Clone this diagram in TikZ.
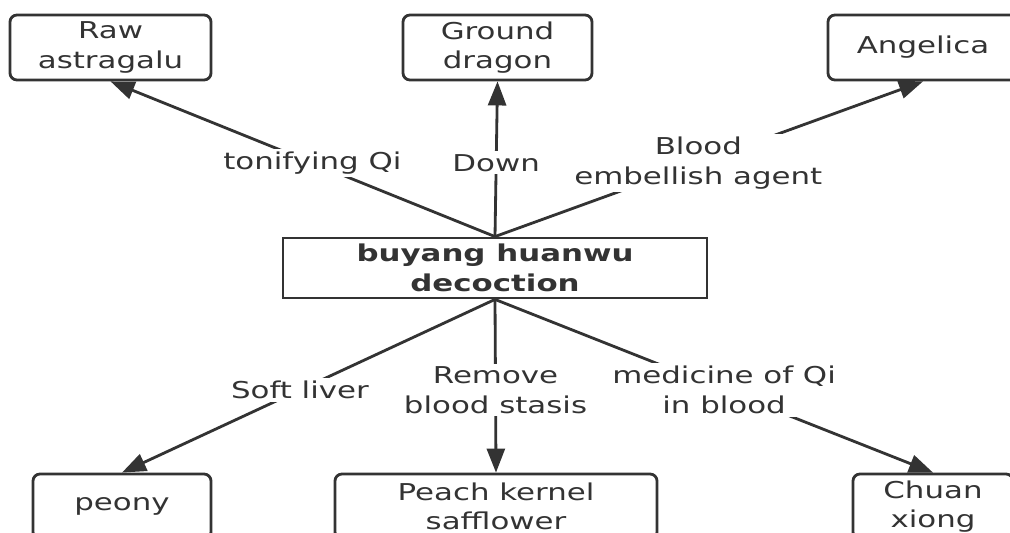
\documentclass[tikz,border=0pt]{standalone}
\usepackage{fontspec}
\setmainfont{DejaVu Sans}[FakeStretch=1.33]
\usetikzlibrary{arrows.meta}
\definecolor{ink}{HTML}{333333}

\begin{document}
\begin{tikzpicture}[x=0.025cm, y=-0.025cm, ->, >={Triangle[length=0.6cm, width=0.45cm]},
    line width=2pt, color=ink,
    font=\fontsize{16.5}{21}\selectfont,
    herb/.style={draw, rounded corners=5pt, align=center,
      minimum height=1.625cm, inner sep=0pt},
    lbl/.style={fill=white, align=center, inner sep=2pt}]

  \useasboundingbox (0,0) rectangle (1010,532);

  % center box
  \node[draw, align=center, font=\fontsize{16.5}{21}\selectfont\bfseries,
    minimum width=10.6cm, minimum height=1.5cm, inner sep=0pt]
    (bhd) at (495,268) {buyang huanwu\\decoction};

  % upper herbs
  \node[herb, minimum width=5.025cm] (astr)   at (110.5,47.5) {Raw\\astragalu};
  \node[herb, minimum width=4.725cm] (dragon) at (497.5,47.5) {Ground\\dragon};
  \node[herb, minimum width=4.75cm]  (angel)  at (923,47.5)   {Angelica};

  % lower herbs
  \node[herb, minimum width=4.45cm] (peony) at (122,506.5) {peony};
  \node[herb, minimum width=8.05cm] (peach) at (496,506.5) {Peach kernel\\safflower};
  \node[herb, minimum width=4cm]    (chuan) at (933,506.5) {Chuan\\xiong};

  \path (bhd.north) edge node[lbl, pos=.475] {tonifying Qi} (astr.south)
        (bhd.north) edge node[lbl, pos=.475] {Down} (dragon.south)
        (bhd.north) edge node[lbl, pos=.475] {Blood\\embellish agent} (angel.south)
        (bhd.south) edge node[lbl, pos=.523] {Soft liver} (peony.north)
        (bhd.south) edge node[lbl, pos=.523] {Remove\\blood stasis} (peach.north)
        (bhd.south) edge node[lbl, pos=.523] {medicine of Qi\\in blood} (chuan.north);

\end{tikzpicture}
\end{document}
